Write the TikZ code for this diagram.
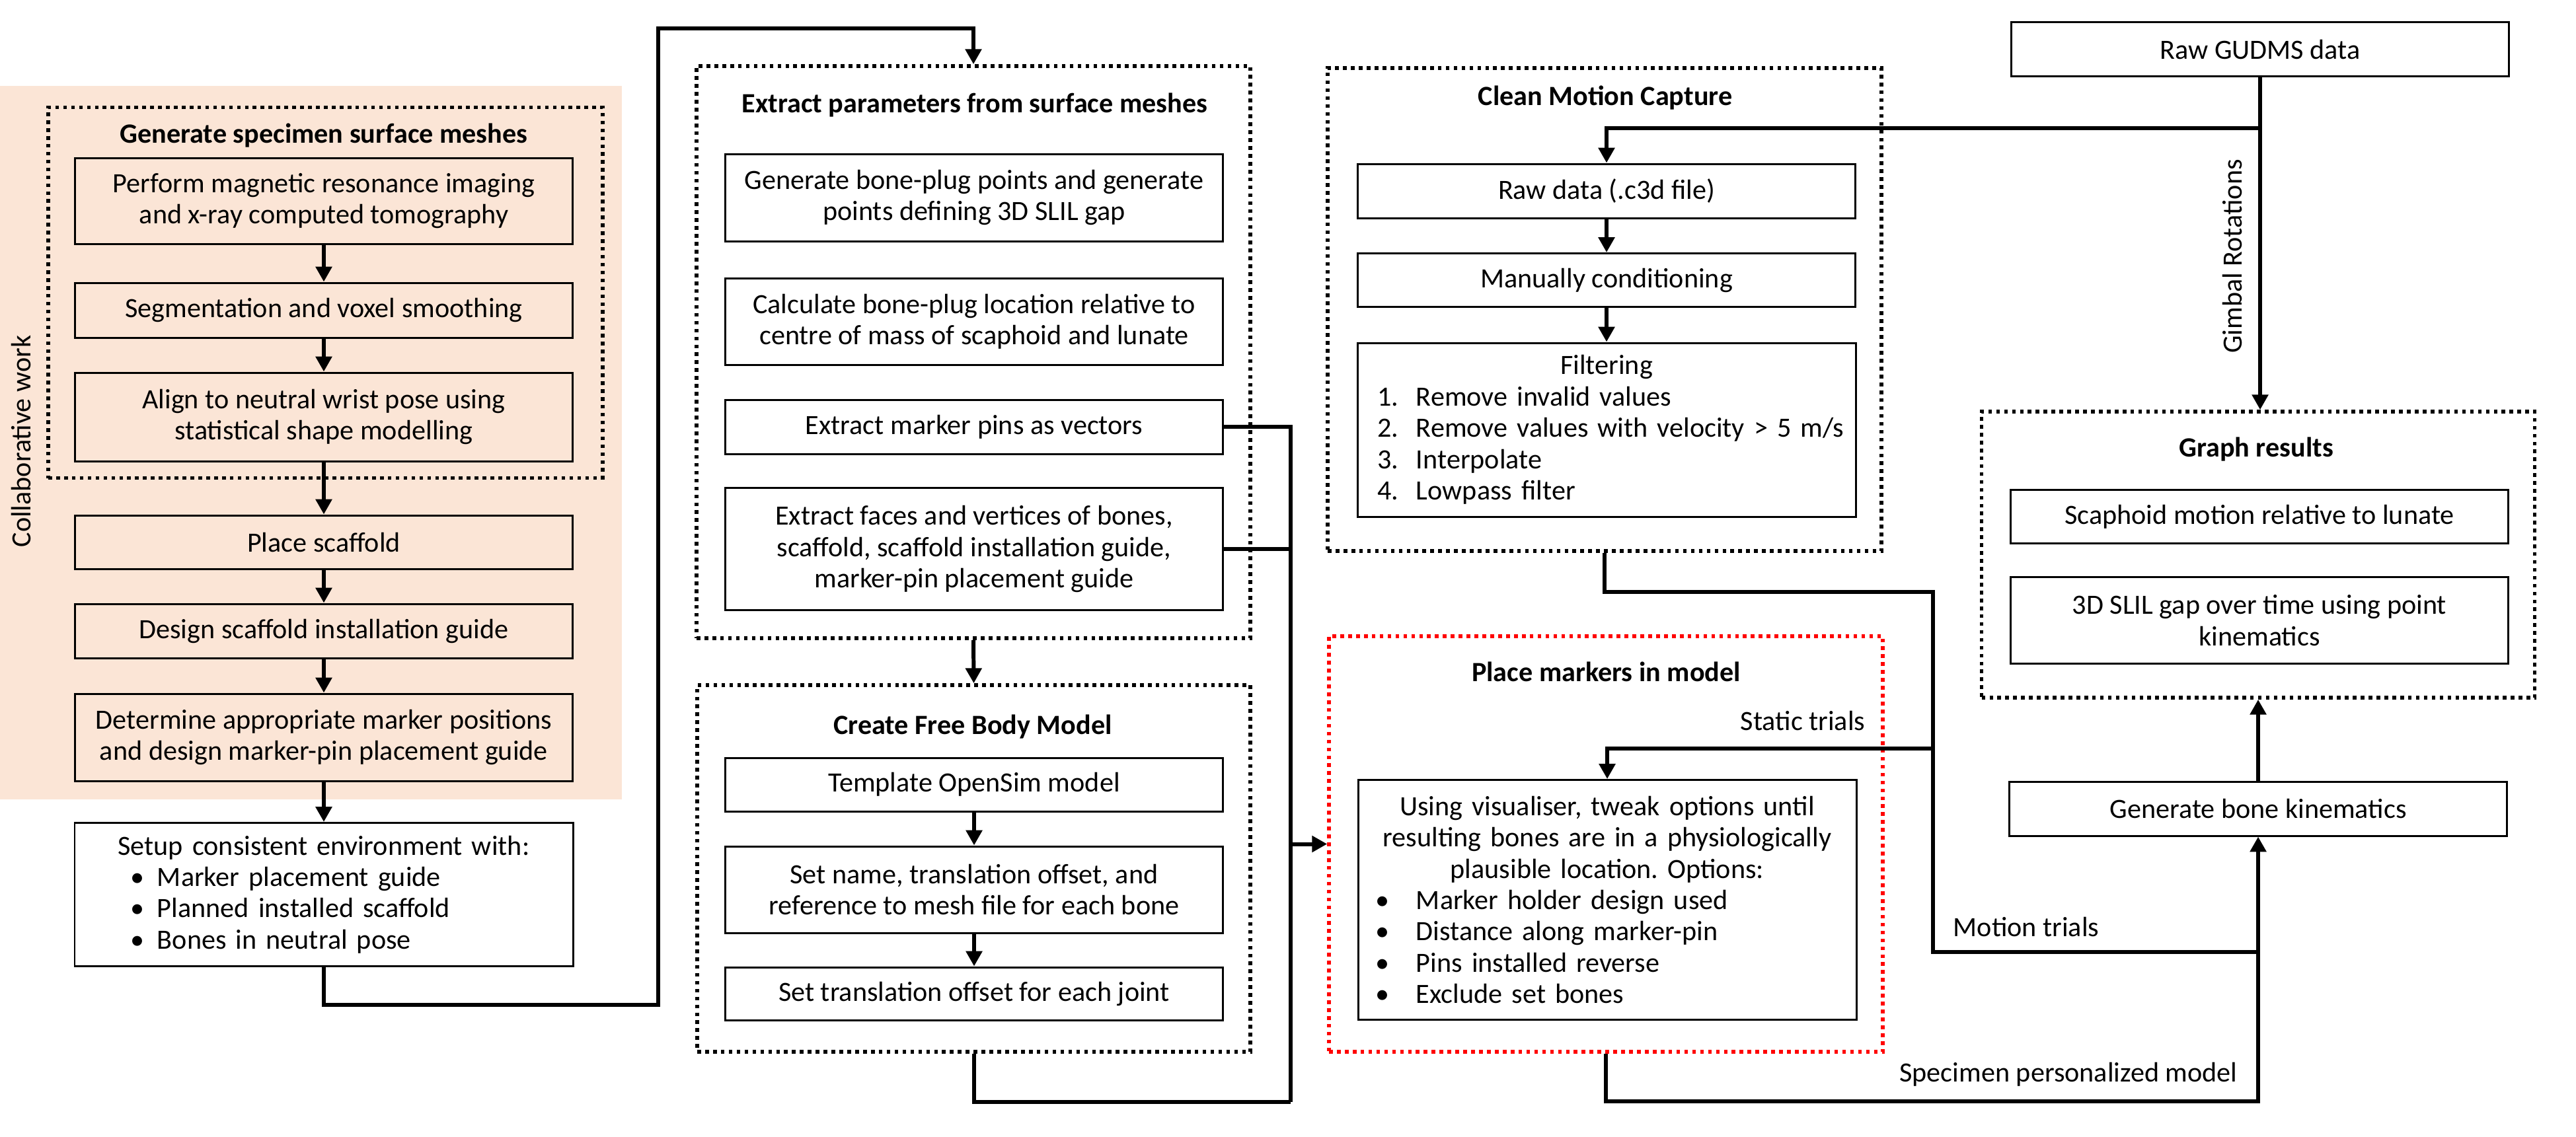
\documentclass[tikz,border=0pt]{standalone}
\usepackage{fontspec}
\setmainfont{Carlito}
\usepackage{xcolor}
\usetikzlibrary{arrows.meta}
\definecolor{peach}{HTML}{FBE5D6}
\newcommand{\itemrow}[3]{\par\noindent\hspace*{#1}\makebox[#2][l]{#3}}
\frenchspacing

\begin{document}
\begin{tikzpicture}[>={Triangle[length=6.5pt,width=6.8pt]},
	every node/.style={font=\fontsize{12}{13.5}\selectfont},
	procbox/.style={draw, line width=.85pt, minimum width=7.53cm, align=center, inner sep=0pt},
	listbox/.style={draw, line width=.85pt, text width=7.54cm, align=left, inner sep=0pt},
	groupbox/.style={draw, line width=1.6pt, dash pattern=on 1.6pt off 1.8pt, inner sep=0pt},
	grouptitle/.style={font=\fontsize{12}{13.5}\selectfont\bfseries},
	conn/.style={line width=1.7pt}]

	\useasboundingbox (0,0) rectangle (38.98,-17.20);

	%collaborative work background
	\fill[peach] (0,-1.30) rectangle (9.41,-12.10);
	\node[rotate=90] (collab) at (0.32,-6.68) {Collaborative work};

	% dotted group boxes
	\node[groupbox, minimum width=8.39cm, minimum height=5.61cm] (gen) at (4.925,-4.43) {};
	\node[groupbox, minimum width=8.38cm, minimum height=8.66cm] (extract) at (14.73,-5.33) {};
	\node[groupbox, minimum width=8.37cm, minimum height=5.55cm] (create) at (14.735,-13.145) {};
	\node[groupbox, minimum width=8.38cm, minimum height=7.31cm] (clean) at (24.28,-4.685) {};
	\node[groupbox, draw=red, minimum width=8.38cm, minimum height=6.29cm] (place) at (24.30,-12.775) {};
	\node[groupbox, minimum width=8.37cm, minimum height=4.33cm] (graph) at (34.17,-8.395) {};

	% group titles
	\node[grouptitle] (gentitle) at (4.90,-2.05) {Generate specimen surface meshes};
	\node[grouptitle] (extracttitle) at (14.75,-1.595) {Extract parameters from surface meshes};
	\node[grouptitle] (createtitle) at (14.72,-11.00) {Create Free Body Model};
	\node[grouptitle] (cleantitle) at (24.29,-1.476) {Clean Motion Capture};
	\node[grouptitle] (placetitle) at (24.305,-10.165) {Place markers in model};
	\node[grouptitle] (graphtitle) at (34.14,-6.805) {Graph results};

	% specimen preparation
	\node[procbox, minimum height=1.30cm] (mri) at (4.90,-3.04) {Perform magnetic resonance imaging\\and x-ray computed tomography};
	\node[procbox, minimum height=0.83cm] (seg) at (4.90,-4.695) {Segmentation and voxel smoothing};
	\node[procbox, minimum height=1.34cm] (align) at (4.90,-6.31) {Align to neutral wrist pose using\\statistical shape modelling};
	\node[procbox, minimum height=0.81cm] (scaff) at (4.90,-8.205) {Place scaffold};
	\node[procbox, minimum height=0.82cm] (guide) at (4.90,-9.55) {Design scaffold installation guide};
	\node[procbox, minimum height=1.32cm] (marker) at (4.90,-11.16) {Determine appropriate marker positions\\and design marker-pin placement guide};
	\node[listbox, minimum height=2.17cm] (setup) at (4.90,-13.54) {{\centering Setup consistent environment with:\par}
		\itemrow{0.84cm}{0.41cm}{\textbullet}Marker placement guide
		\itemrow{0.84cm}{0.41cm}{\textbullet}Planned installed scaffold
		\itemrow{0.84cm}{0.41cm}{\textbullet}Bones in neutral pose};

	% extract parameters
	\node[procbox, minimum height=1.32cm] (plug) at (14.74,-2.99) {Generate bone-plug points and generate\\points defining 3D SLIL gap};
	\node[procbox, minimum height=1.31cm] (com) at (14.74,-4.865) {Calculate bone-plug location relative to\\centre of mass of scaphoid and lunate};
	\node[procbox, minimum height=0.82cm] (pins) at (14.74,-6.46) {Extract marker pins as vectors};
	\node[procbox, minimum height=1.85cm] (faces) at (14.74,-8.31) {Extract faces and vertices of bones,\\scaffold, scaffold installation guide,\\marker-pin placement guide};

	% free body model
	\node[procbox, minimum height=0.81cm] (tmpl) at (14.74,-11.875) {Template OpenSim model};
	\node[procbox, minimum height=1.31cm] (setname) at (14.74,-13.465) {Set name, translation offset, and\\reference to mesh file for each bone};
	\node[procbox, minimum height=0.80cm] (joint) at (14.74,-15.04) {Set translation offset for each joint};

	% motion capture
	\node[procbox, minimum height=0.82cm] (raw) at (24.31,-2.89) {Raw data (.c3d file)};
	\node[procbox, minimum height=0.81cm] (manual) at (24.31,-4.24) {Manually conditioning};
	\node[listbox, minimum height=2.63cm] (filter) at (24.31,-6.505) {{\centering Filtering\par}
		\itemrow{0.30cm}{0.59cm}{1.}Remove invalid values
		\itemrow{0.30cm}{0.59cm}{2.}Remove values with velocity > 5 m/s
		\itemrow{0.30cm}{0.59cm}{3.}Interpolate
		\itemrow{0.30cm}{0.59cm}{4.}Lowpass filter};

	% markers in model
	\node[listbox, minimum height=3.63cm] (visual) at (24.32,-13.62) {{\centering Using visualiser, tweak options until\par
		resulting bones are in a physiologically\par
		plausible location. Options:\par}
		\itemrow{0.26cm}{0.62cm}{\textbullet}Marker holder design used
		\itemrow{0.26cm}{0.62cm}{\textbullet}Distance along marker-pin
		\itemrow{0.26cm}{0.62cm}{\textbullet}Pins installed reverse
		\itemrow{0.26cm}{0.62cm}{\textbullet}Exclude set bones};

	% results
	\node[procbox, minimum height=0.82cm] (gudms) at (34.20,-0.747) {Raw GUDMS data};
	\node[procbox, minimum height=0.81cm] (scap) at (34.19,-7.82) {Scaphoid motion relative to lunate};
	\node[procbox, minimum height=1.31cm] (slil) at (34.19,-9.39) {3D SLIL gap over time using point\\kinematics};
	\node[procbox, minimum height=0.82cm] (kin) at (34.17,-12.24) {Generate bone kinematics};

	% bend points
	\coordinate (hop1) at (9.96,-15.21);
	\coordinate (hop2) at (9.96,-0.43);
	\coordinate (busB) at (19.53,-16.68);
	\coordinate (gimbal) at (34.20,-1.94);
	\coordinate (trialT) at (29.25,-8.955);
	\coordinate (trialS) at (29.25,-11.33);
	\coordinate (trialM) at (29.25,-14.41);
	\coordinate (specB) at (34.17,-16.67);

	% Arrows
	\draw[conn,->] (mri.south) -- (seg.north);
	\draw[conn,->] (seg.south) -- (align.north);
	\draw[conn,->] (align.south) -- (scaff.north);
	\draw[conn,->] (scaff.south) -- (guide.north);
	\draw[conn,->] (guide.south) -- (marker.north);
	\draw[conn,->] (marker.south) -- (setup.north);
	\draw[conn,->] (setup.south) |- (hop1) -- (hop2) -| (extract.north);
	\draw[conn,->] (extract.south) -- (create.north);
	\draw[conn,->] (tmpl.south) -- (setname.north);
	\draw[conn,->] (setname.south) -- (joint.north);
	\draw[conn] (pins.east) -| (busB);
	\draw[conn] (faces.east) -- (faces.east -| busB);
	\draw[conn] (create.south) |- (busB);
	\draw[conn,->] (busB |- place.west) -- (place.west);
	\draw[conn,->] (gudms.south) -- (gimbal) -| (raw.north);
	\draw[conn,->] (gimbal) -- (gimbal |- graph.north);
	\draw[conn,->] (raw.south) -- (manual.north);
	\draw[conn,->] (manual.south) -- (filter.north);
	\draw[conn] (clean.south) |- (trialT) -- (trialM) -- (trialM -| kin.south);
	\draw[conn,->] (trialS) -| (visual.north);
	\draw[conn,->] (place.south) |- (specB) -- (kin.south);
	\draw[conn,->] (kin.north) -- (graph.south);

	% connector labels
	\node[rotate=90] (gimballbl) at (33.78,-3.88) {Gimbal Rotations};
	\node (staticlbl) at (27.28,-10.91) {Static trials};
	\node (motionlbl) at (30.66,-14.025) {Motion trials};
	\node (speclbl) at (31.30,-16.26) {Specimen personalized model};

\end{tikzpicture}
\end{document}
